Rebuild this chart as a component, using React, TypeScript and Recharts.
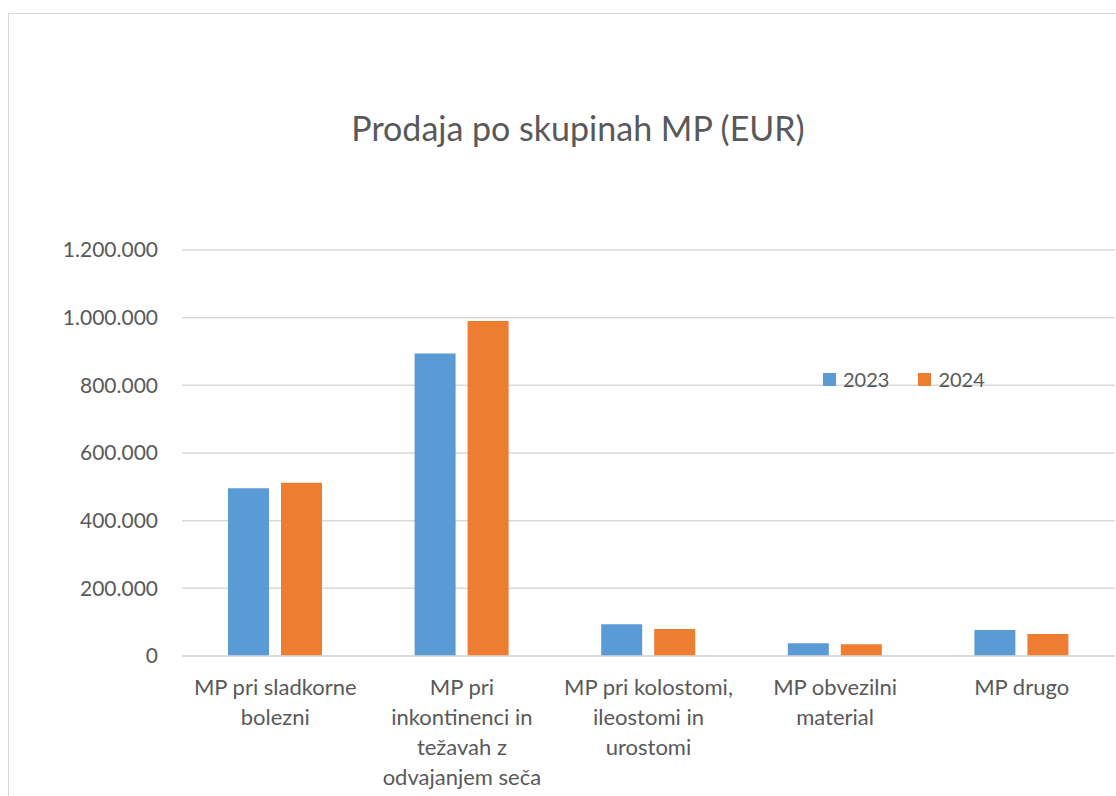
import React from "react";
import {
  BarChart,
  Bar,
  XAxis,
  YAxis,
  CartesianGrid,
  Legend,
} from "recharts";

// Prodaja po skupinah MP, EUR
const categories = [
  "MP pri sladkorne bolezni",
  "MP pri inkontinenci in težavah z odvajanjem seča",
  "MP pri kolostomi, ileostomi in urostomi",
  "MP obvezilni material",
  "MP drugo",
];
// how Excel wrapped the category names
const categoryLines = [
  ["MP pri sladkorne", "bolezni"],
  ["MP pri", "inkontinenci in", "težavah z", "odvajanjem seča"],
  ["MP pri kolostomi,", "ileostomi in", "urostomi"],
  ["MP obvezilni", "material"],
  ["MP drugo"],
];
const sales2023 = [496000, 894000, 94000, 38000, 77000];
const sales2024 = [512000, 990000, 80000, 35000, 65000];
const yTicks = [0, 200000, 400000, 600000, 800000, 1000000, 1200000];

const BLUE = "#5B9BD5";
const ORANGE = "#ED7D31";
const GRID = "#D9D9D9";
const INK = "#595959";
const FONT = "Lato, 'Open Sans', sans-serif";

const data = categories.map((name, i) => ({
  name,
  y2023: sales2023[i],
  y2024: sales2024[i],
}));

const fmt = (v: number) => String(v).replace(/\B(?=(\d{3})+(?!\d))/g, ".");

function CategoryTick(props: any) {
  const { x, y, payload } = props;
  const lines = categoryLines[payload.index] ?? [payload.value];
  return (
    <text x={x} y={y} textAnchor="middle" fill={INK} fontSize={22} fontFamily={FONT}>
      {lines.map((l, i) => (
        <tspan key={i} x={x} dy={i === 0 ? 33 : 30}>
          {l}
        </tspan>
      ))}
    </text>
  );
}

function LegendContent(props: any) {
  const { payload } = props;
  return (
    <div style={{ display: "flex", alignItems: "center", fontFamily: FONT, fontSize: 20, color: INK }}>
      {payload.map((p: any, i: number) => (
        <div key={i} style={{ display: "flex", alignItems: "center", marginRight: 29 }}>
          <span style={{ width: 13, height: 13, background: p.color, marginRight: 7, display: "inline-block" }} />
          <span>{p.value}</span>
        </div>
      ))}
    </div>
  );
}

export default function App() {
  return (
    <div
      style={{
        position: "fixed",
        left: 8,
        top: 8,
        width: 1108,
        height: 788,
        overflow: "hidden",
        paddingTop: 5,
        boxSizing: "border-box",
      }}
    >
      <div
        style={{
          position: "relative",
          width: 1140,
          height: 800,
          borderLeft: `1px solid ${GRID}`,
          borderTop: `1px solid ${GRID}`,
          background: "#fff",
        }}
      >
        <div
          style={{
            position: "absolute",
            left: 0,
            top: 97,
            width: 1138,
            textAlign: "center",
            fontFamily: FONT,
            fontSize: 34,
            lineHeight: 1,
            color: INK,
          }}
        >
          Prodaja po skupinah MP (EUR)
        </div>
        <BarChart
          width={1110}
          height={782}
          data={data}
          margin={{ top: 236, right: 4, left: 0, bottom: 0 }}
          barGap={12}
          barCategoryGap={46}
        >
          <CartesianGrid vertical={false} stroke={GRID} strokeWidth={1.5} />
          <XAxis
            dataKey="name"
            height={140}
            axisLine={{ stroke: GRID, strokeWidth: 1.5 }}
            tickLine={false}
            tickMargin={0}
            interval={0}
            tick={<CategoryTick />}
          />
          <YAxis
            width={173}
            domain={[0, 1200000]}
            ticks={yTicks}
            tickFormatter={fmt}
            axisLine={false}
            tickLine={false}
            tickMargin={18}
            tick={{ fill: INK, fontSize: 21, fontFamily: FONT }}
          />
          <Legend
            layout="horizontal"
            verticalAlign="middle"
            content={<LegendContent />}
            wrapperStyle={{ left: 814, top: 353, width: 220, height: 26 }}
          />
          <Bar dataKey="y2023" name="2023" fill={BLUE} isAnimationActive={false} />
          <Bar dataKey="y2024" name="2024" fill={ORANGE} isAnimationActive={false} />
        </BarChart>
      </div>
    </div>
  );
}
